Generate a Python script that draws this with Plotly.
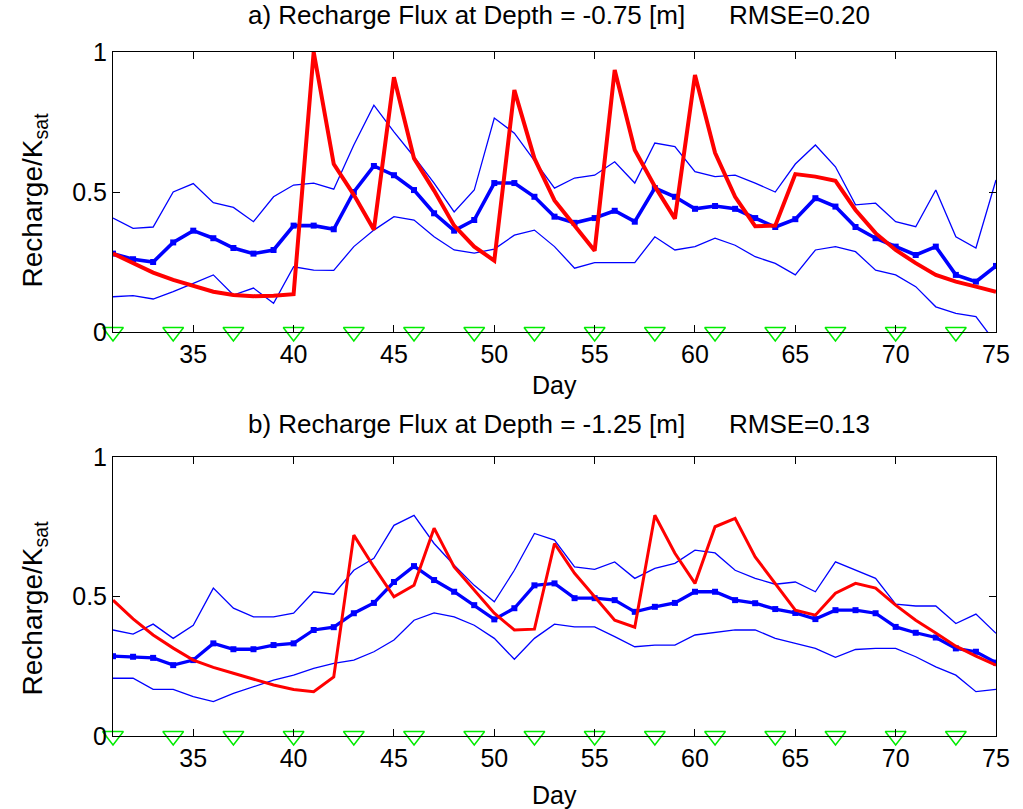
import plotly.graph_objects as go

days = [31, 32, 33, 34, 35, 36, 37, 38, 39, 40, 41, 42, 43, 44, 45, 46, 47, 48, 49, 50,
        51, 52, 53, 54, 55, 56, 57, 58, 59, 60, 61, 62, 63, 64, 65, 66, 67, 68, 69, 70,
        71, 72, 73, 74, 75]
obs_days = [31, 34, 37, 40, 43, 46, 49, 52, 55, 58, 61, 64, 67, 70, 73]
x_ticks = [35, 40, 45, 50, 55, 60, 65, 70, 75]
y_ticks = [0, 0.5, 1]
y_ticklabels = ["0", "0.5", "1"]

# panel a) depth -0.75 m
a_obs = [0.28, 0.245, 0.212, 0.186, 0.165, 0.144, 0.132, 0.128, 0.13, 0.135,
         1.0, 0.60, 0.49, 0.365, 0.91, 0.62, 0.505, 0.38, 0.305, 0.255,
         0.864, 0.62, 0.47, 0.38, 0.29, 0.936, 0.65, 0.52, 0.405, 0.918,
         0.64, 0.483, 0.378, 0.38, 0.564, 0.555, 0.54, 0.436, 0.353, 0.293,
         0.246, 0.204, 0.18, 0.162, 0.144]
a_mean = [0.28, 0.26, 0.25, 0.32, 0.362, 0.335, 0.30, 0.28, 0.293, 0.38,
          0.38, 0.367, 0.50, 0.593, 0.56, 0.507, 0.424, 0.362, 0.40, 0.532,
          0.532, 0.483, 0.412, 0.39, 0.407, 0.433, 0.394, 0.514, 0.483, 0.44,
          0.45, 0.44, 0.407, 0.375, 0.403, 0.478, 0.448, 0.375, 0.335, 0.305,
          0.275, 0.305, 0.204, 0.18, 0.236]
a_hi = [0.407, 0.37, 0.375, 0.50, 0.53, 0.462, 0.445, 0.394, 0.483, 0.525,
        0.532, 0.51, 0.668, 0.81, 0.715, 0.626, 0.532, 0.429, 0.507, 0.764,
        0.71, 0.614, 0.514, 0.55, 0.56, 0.608, 0.532, 0.675, 0.662, 0.573,
        0.555, 0.56, 0.532, 0.50, 0.60, 0.668, 0.59, 0.454, 0.46, 0.394,
        0.376, 0.507, 0.34, 0.30, 0.543]
a_lo = [0.126, 0.13, 0.118, 0.144, 0.174, 0.204, 0.132, 0.157, 0.103, 0.233,
        0.221, 0.22, 0.305, 0.364, 0.412, 0.40, 0.34, 0.293, 0.282, 0.296,
        0.346, 0.364, 0.305, 0.228, 0.248, 0.248, 0.248, 0.34, 0.293, 0.305,
        0.335, 0.31, 0.269, 0.245, 0.204, 0.293, 0.305, 0.287, 0.221, 0.204,
        0.162, 0.09, 0.067, 0.055, -0.04]

# panel b) depth -1.25 m
b_obs = [0.487, 0.42, 0.362, 0.315, 0.272, 0.246, 0.225, 0.204, 0.183, 0.167,
         0.159, 0.212, 0.72, 0.606, 0.499, 0.54, 0.745, 0.606, 0.523, 0.44,
         0.38, 0.383, 0.69, 0.583, 0.499, 0.415, 0.39, 0.791, 0.655, 0.547,
         0.75, 0.78, 0.642, 0.547, 0.451, 0.433, 0.512, 0.547, 0.53, 0.469,
         0.415, 0.369, 0.322, 0.286, 0.254]
b_mean = [0.286, 0.284, 0.28, 0.254, 0.272, 0.332, 0.311, 0.311, 0.326, 0.332,
          0.38, 0.39, 0.44, 0.477, 0.552, 0.609, 0.559, 0.517, 0.469, 0.418,
          0.458, 0.54, 0.547, 0.494, 0.494, 0.487, 0.445, 0.463, 0.477, 0.517,
          0.517, 0.487, 0.476, 0.455, 0.441, 0.419, 0.451, 0.451, 0.44, 0.391,
          0.37, 0.353, 0.314, 0.302, 0.263]
b_hi = [0.38, 0.365, 0.401, 0.35, 0.397, 0.53, 0.458, 0.427, 0.427, 0.44,
        0.517, 0.508, 0.594, 0.637, 0.755, 0.791, 0.69, 0.612, 0.54, 0.481,
        0.594, 0.726, 0.702, 0.606, 0.597, 0.624, 0.565, 0.601, 0.619, 0.666,
        0.656, 0.594, 0.565, 0.544, 0.552, 0.517, 0.624, 0.594, 0.565, 0.473,
        0.466, 0.466, 0.403, 0.437, 0.368]
b_lo = [0.207, 0.207, 0.167, 0.167, 0.141, 0.123, 0.153, 0.177, 0.2, 0.218,
        0.242, 0.26, 0.272, 0.302, 0.344, 0.415, 0.441, 0.427, 0.397, 0.35,
        0.275, 0.35, 0.401, 0.391, 0.391, 0.356, 0.32, 0.326, 0.326, 0.362,
        0.37, 0.38, 0.38, 0.35, 0.332, 0.314, 0.282, 0.31, 0.314, 0.314,
        0.284, 0.248, 0.218, 0.159, 0.167]

titles = ["a) Recharge Flux at Depth = -0.75 [m]", "b) Recharge Flux at Depth = -1.25 [m]"]
rmse = ["RMSE=0.20", "RMSE=0.13"]

BLUE = "rgb(0,0,255)"
RED = "rgb(255,0,0)"
GREEN = "rgb(0,235,0)"
FONT = "Liberation Sans, Arial, sans-serif"

fig = go.Figure()

panels = [(a_obs, a_mean, a_hi, a_lo, "x", "y", 4.0, 3.6),
          (b_obs, b_mean, b_hi, b_lo, "x2", "y2", 3.0, 3.3)]
for obs, mean, hi, lo, xa, ya, red_w, mean_w in panels:
    for band in (hi, lo):
        fig.add_trace(go.Scatter(x=days, y=band, mode="lines", xaxis=xa, yaxis=ya,
                                 line=dict(color=BLUE, width=1.3), showlegend=False))
    fig.add_trace(go.Scatter(x=days, y=mean, mode="lines+markers", xaxis=xa, yaxis=ya,
                             line=dict(color=BLUE, width=mean_w),
                             marker=dict(symbol="square", size=6, color=BLUE),
                             showlegend=False))
    fig.add_trace(go.Scatter(x=days, y=obs, mode="lines", xaxis=xa, yaxis=ya,
                             line=dict(color=RED, width=red_w), showlegend=False))
    fig.add_trace(go.Scatter(x=obs_days, y=[0] * len(obs_days), mode="markers",
                             xaxis=xa, yaxis=ya, cliponaxis=False,
                             marker=dict(symbol="triangle-down-open", size=18,
                                         color=GREEN, line=dict(color=GREEN, width=1.5)),
                             showlegend=False))

axis_common = dict(showline=True, linecolor="black", linewidth=1, mirror="ticks",
                   ticks="inside", ticklen=7, tickcolor="black", showgrid=False,
                   zeroline=False, tickfont=dict(family=FONT, size=25, color="black"))

top_dom = [0.5906, 1.0]
bot_dom = [0.0, 0.4079]

fig.update_layout(
    width=1023, height=809,
    paper_bgcolor="white", plot_bgcolor="white",
    margin=dict(l=113, r=27, t=52, b=73),
    xaxis=dict(domain=[0, 1], range=[31, 75], anchor="y", tickvals=x_ticks, **axis_common),
    yaxis=dict(domain=top_dom, range=[0, 1], anchor="x", tickvals=y_ticks,
               ticktext=y_ticklabels, **axis_common),
    xaxis2=dict(domain=[0, 1], range=[31, 75], anchor="y2", tickvals=x_ticks, **axis_common),
    yaxis2=dict(domain=bot_dom, range=[0, 1], anchor="x2", tickvals=y_ticks,
                ticktext=y_ticklabels, **axis_common),
)

ann = []
title_y = [1.0541, 0.4561]
day_y = [0.5132, -0.0863]
ylab_y = [0.7836, 0.1871]
for i in range(2):
    ann.append(dict(text=titles[i], x=0.1506, y=title_y[i], xref="paper", yref="paper",
                    xanchor="left", yanchor="middle", showarrow=False,
                    font=dict(family=FONT, size=26, color="black")))
    ann.append(dict(text=rmse[i], x=0.6954, y=title_y[i], xref="paper", yref="paper",
                    xanchor="left", yanchor="middle", showarrow=False,
                    font=dict(family=FONT, size=26, color="black")))
    ann.append(dict(text="Day", x=0.5, y=day_y[i], xref="paper", yref="paper",
                    xanchor="center", yanchor="middle", showarrow=False,
                    font=dict(family=FONT, size=25, color="black")))
    ann.append(dict(text="Recharge/K<sub>sat</sub>", x=-0.089, y=ylab_y[i],
                    xref="paper", yref="paper", xanchor="center", yanchor="middle",
                    textangle=-90, showarrow=False,
                    font=dict(family=FONT, size=28, color="black")))
fig.update_layout(annotations=ann)

# remove the default page margin so the figure sits at the window's top-left corner
fig.write_html("out.html", config={"displayModeBar": False},
               post_script="document.body.style.margin='0px';")
